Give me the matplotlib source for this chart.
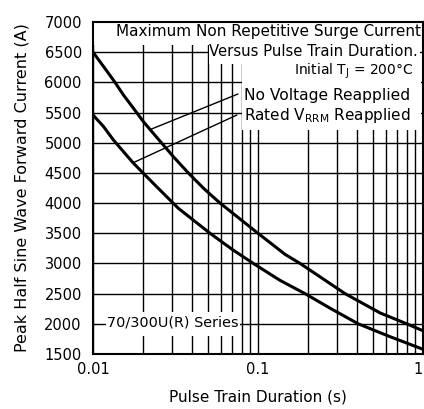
import numpy as np
import matplotlib
matplotlib.use("Agg")
import matplotlib.pyplot as plt
from matplotlib.patches import Rectangle
from matplotlib.ticker import FixedLocator, LogLocator, NullFormatter


# ==========================
# Data
# ==========================

t_no_voltage = [0.01, 0.0118, 0.0136, 0.0153, 0.0176, 0.0202, 0.0232, 0.0267, 0.0307,
                0.0378, 0.047, 0.0589, 0.1, 0.146, 0.18, 0.337, 0.55, 0.797, 1.0]
i_no_voltage = [6500, 6233, 6000, 5790, 5570, 5350, 5156, 4962, 4769,
                4500, 4240, 4000, 3500, 3150, 3000, 2500, 2180, 2000, 1885]

t_rated = [0.01, 0.0116, 0.0133, 0.0153, 0.0176, 0.0202, 0.0243, 0.0293, 0.0329,
           0.0512, 0.07, 0.0937, 0.136, 0.1927, 0.273, 0.405, 0.631, 1.0]
i_rated = [5460, 5266, 5045, 4852, 4660, 4494, 4272, 4051, 3914,
           3500, 3230, 3000, 2720, 2500, 2260, 2000, 1787, 1578]

x_ticks = [0.01, 0.1, 1]
x_tick_labels = ["0.01", "0.1", "1"]
y_ticks = list(range(1500, 7001, 500))


# ==========================
# Figure
# ==========================

fig = plt.figure(figsize=(4.24, 4.09), dpi=100)
ax = fig.add_axes([0.2193, 0.1345, 0.7783, 0.8117])

ax.set_xscale("log")
ax.set_xlim(0.01, 1)
ax.set_ylim(1500, 7000)

ax.xaxis.set_major_locator(FixedLocator(x_ticks))
ax.set_xticklabels(x_tick_labels)
ax.xaxis.set_minor_locator(LogLocator(base=10, subs=np.arange(2, 10)))
ax.xaxis.set_minor_formatter(NullFormatter())
ax.set_yticks(y_ticks)
ax.get_xticklabels()[-1].set_horizontalalignment("right")

ax.set_axisbelow(True)
ax.grid(True, which="both", axis="x", color="black", lw=1.0)
ax.grid(True, which="major", axis="y", color="black", lw=1.0)

ax.tick_params(which="both", length=0, labelsize=10.5)
ax.tick_params(axis="y", pad=8)
ax.tick_params(axis="x", pad=6)
for s in ax.spines.values():
    s.set_linewidth(1.5)


# ==========================
# Curves
# ==========================

ax.plot(t_no_voltage, i_no_voltage, color="black", lw=2.2, zorder=4)
ax.plot(t_rated, i_rated, color="black", lw=2.2, zorder=4)


# ==========================
# Text boxes (white backgrounds hide grid)
# ==========================

boxes = [
    (0.0, 0.931, 1.0, 0.069),
    (0.352, 0.873, 0.639, 0.058),
    (0.452, 0.675, 0.542, 0.198),
    (0.039, 0.054, 0.406, 0.073),
]
for bx, by, bw, bh in boxes:
    ax.add_patch(Rectangle((bx, by), bw, bh, transform=ax.transAxes,
                           facecolor="white", edgecolor="none", zorder=2))

ax.text(0.994, 0.972, "Maximum Non Repetitive Surge Current", transform=ax.transAxes,
        ha="right", va="center", fontsize=11, zorder=3)
ax.text(0.985, 0.910, "Versus Pulse Train Duration.", transform=ax.transAxes,
        ha="right", va="center", fontsize=10.7, zorder=3)
ax.text(0.970, 0.852, r"Initial T$_\mathregular{J}$ = 200°C", transform=ax.transAxes,
        ha="right", va="center", fontsize=10, zorder=3)
ax.text(0.458, 0.780, "No Voltage Reapplied", transform=ax.transAxes,
        ha="left", va="center", fontsize=11.2, zorder=3)
ax.text(0.458, 0.718, r"Rated V$_\mathregular{RRM}$ Reapplied", transform=ax.transAxes,
        ha="left", va="center", fontsize=11, zorder=3)
ax.text(0.042, 0.096, "70/300U(R) Series", transform=ax.transAxes,
        ha="left", va="center", fontsize=10.4, zorder=3)


# ==========================
# Leader lines
# ==========================

def on_curve(t, ts, vs):
    return np.interp(np.log10(t), np.log10(ts), vs)

ax.annotate("", xy=(0.0222, on_curve(0.0222, t_no_voltage, i_no_voltage)),
            xytext=(0.0756, 5807),
            arrowprops=dict(arrowstyle="-", color="black", lw=1.0,
                            shrinkA=0, shrinkB=0), zorder=3)
ax.annotate("", xy=(0.0175, on_curve(0.0175, t_rated, i_rated)),
            xytext=(0.0745, 5459),
            arrowprops=dict(arrowstyle="-", color="black", lw=1.0,
                            shrinkA=0, shrinkB=0), zorder=3)


# ==========================
# Labels
# ==========================

ax.set_xlabel("Pulse Train Duration (s)", fontsize=11, labelpad=9)
ax.set_ylabel("Peak Half Sine Wave Forward Current (A)", fontsize=11.5, labelpad=11)

fig.savefig("out.png", dpi=100)
